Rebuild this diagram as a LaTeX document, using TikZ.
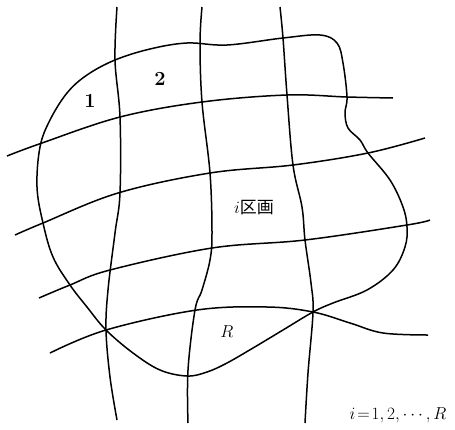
\documentclass[tikz,border=0pt]{standalone}
\usepackage{fontspec}
\newfontfamily\cjk{Noto Sans CJK JP}
\begin{document}
\begin{tikzpicture}[x=1pt,y=-1pt,
  curve/.style={line width=1.5pt,black},
  lbl/.style={font=\fontsize{17}{20}\selectfont,inner sep=0pt},
  num/.style={font=\fontsize{20}{24}\selectfont\bfseries,inner sep=0pt}]
\useasboundingbox (0,0) rectangle (455,429);
% vertical lines
\draw[curve] plot[smooth,tension=0.6] coordinates {(117,7) (115,60) (120,117) (120,193) (115,233) (108,290) (106,330) (110,377) (117,420)};
\draw[curve] plot[smooth,tension=0.6] coordinates {(202,7) (200,43) (202,102) (210,173) (212,233) (210,260) (202,290) (195,310) (188,370) (188,423)};
\draw[curve] plot[smooth,tension=0.6] coordinates {(280,7) (283,38) (287,95) (293,165) (302,207) (305,240) (311,283) (313,312) (308,373) (305,423)};
% horizontal lines
\draw[curve] plot[smooth,tension=0.6] coordinates {(7,156) (42,143) (120,117) (202,102) (287,95) (347,97) (393,98)};
\draw[curve] plot[smooth,tension=0.6] coordinates {(15,235) (43,223) (118,193) (210,173) (293,165) (368,153) (425,138)};
\draw[curve] plot[smooth,tension=0.6] coordinates {(39,298) (70,285) (110,270) (212,248) (305,240) (407,225) (430,220)};
\draw[curve] plot[smooth,tension=0.6] coordinates {(50,353) (106,330) (197,310) (267,307) (313,312) (350,323) (383,333) (428,335)};
% boundary
\draw[curve] plot[smooth cycle,tension=0.6] coordinates {(115,60) (150,49) (187,43) (227,45) (283,38) (320,35) (337,43) (343,63) (347,97) (345,113) (348,128) (360,140) (368,153) (390,180) (403,207) (407,227) (405,247) (393,270) (367,290) (333,303) (313,312) (283,330) (253,348) (227,363) (207,372) (187,376) (160,370) (133,353) (106,330) (87,307) (70,285) (53,257) (43,223) (37,187) (40,147) (50,120) (67,93) (87,75)};
% labels
\node[num] (one) at (90,101) {1};
\node[num] (two) at (160,79) {2};
\node[lbl] (sec) at (254,208) {$i$\cjk 区画};
\node[lbl] (rr) at (227,332) {$R$};
\node[lbl] (eq) at (398,415) {$i\!=\!1,2,\cdots,R$};
\end{tikzpicture}
\end{document}
